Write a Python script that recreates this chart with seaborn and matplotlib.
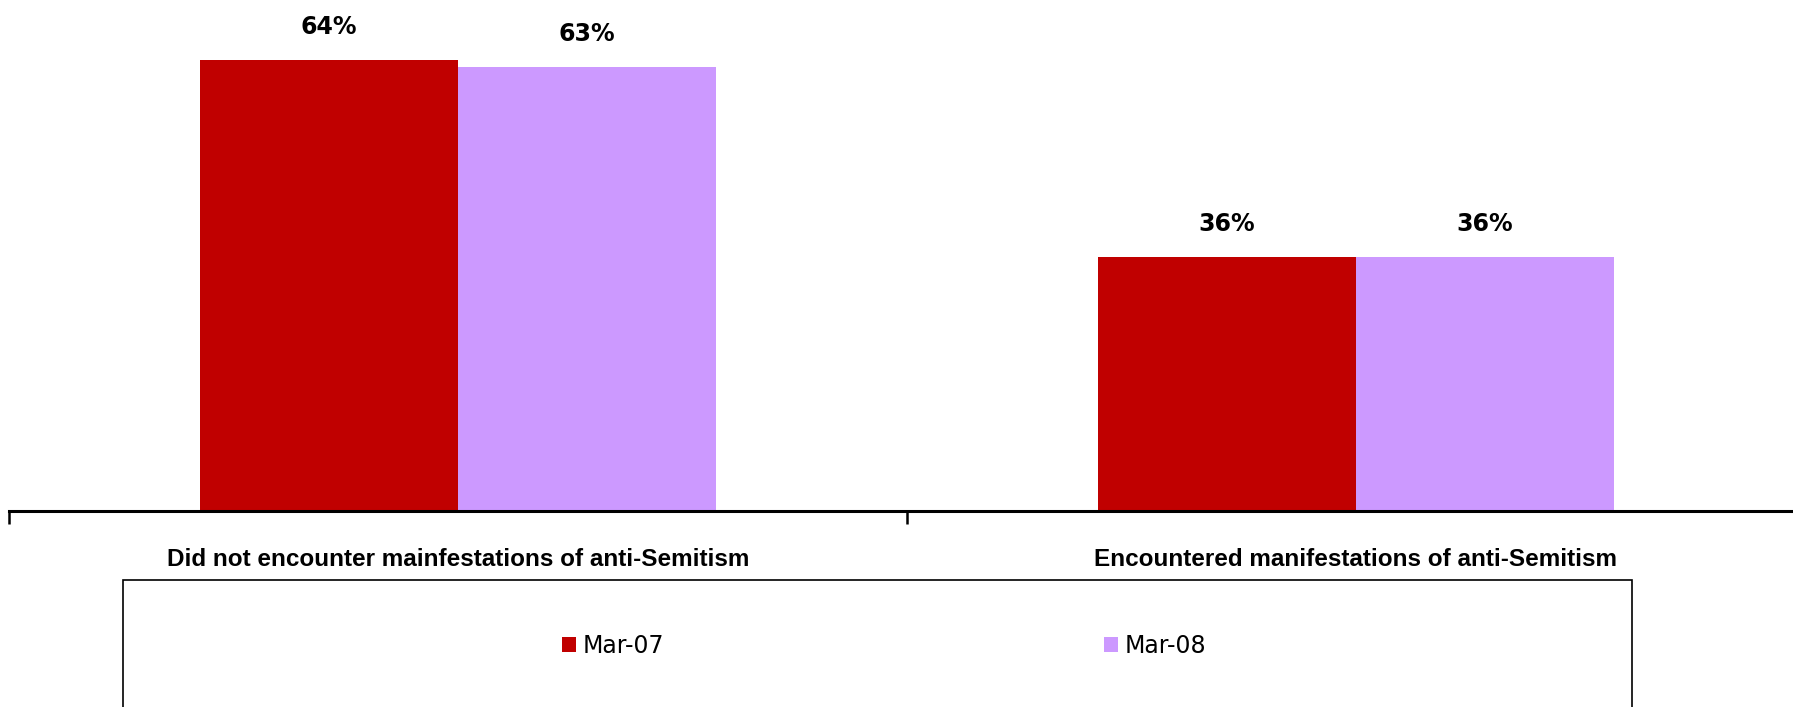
import matplotlib.pyplot as plt
import matplotlib.patches as mpatches
import pandas as pd
import seaborn as sns

# chart data
categories = [
    "Did not encounter mainfestations of anti-Semitism",
    "Encountered manifestations of anti-Semitism",
]
periods = ["Mar-07", "Mar-08"]
mar07 = [64, 36]
mar08 = [63, 36]
colors = ["#C00000", "#CC99FF"]

df = pd.DataFrame(
    {
        "category": categories * 2,
        "period": [periods[0]] * 2 + [periods[1]] * 2,
        "value": mar07 + mar08,
    }
)

sns.set_style("white")
narrow = ["Liberation Sans Narrow", "DejaVu Sans Condensed", "DejaVu Sans"]
plt.rcParams["font.family"] = narrow
plt.rcParams["text.color"] = "black"
plt.rcParams["xtick.color"] = "black"

fig = plt.figure(figsize=(17.93, 7.07), dpi=100)
ax = fig.add_axes([9 / 1793, 196 / 707, 1796 / 1793, 511 / 707])

sns.barplot(
    data=df,
    x="category",
    y="value",
    hue="period",
    hue_order=periods,
    palette=colors,
    saturation=1,
    width=0.575,
    linewidth=0,
    edgecolor="none",
    ax=ax,
)

# value labels above bars
for cont in ax.containers:
    ax.bar_label(
        cont,
        labels=[f"{v:.0f}%" for v in cont.datavalues],
        padding=15,
        fontsize=17,
        fontweight="bold",
        color="black",
        family=narrow,
    )

ax.set_xlim(-0.5, 1.5)
ax.set_ylim(0, 72.5)
ax.set_xlabel("")
ax.set_ylabel("")
ax.set_yticks([])

for side in ["top", "left", "right"]:
    ax.spines[side].set_visible(False)
ax.spines["bottom"].set_linewidth(2.2)
ax.spines["bottom"].set_color("black")

# category labels, separators as minor ticks
ax.tick_params(axis="x", which="major", length=0, pad=27)
ax.set_xticks([-0.5, 0.5, 1.5], minor=True)
ax.tick_params(axis="x", which="minor", bottom=True, length=9, width=1.8,
               direction="out", color="black")
for lbl in ax.get_xticklabels():
    lbl.set_fontsize(17.5)
    lbl.set_fontweight("bold")
    lbl.set_color("black")
    lbl.set_family(["Liberation Sans", "DejaVu Sans"])

# legend box
box = mpatches.Rectangle(
    (123 / 1793, -0.05),
    1509 / 1793,
    (707 - 580) / 707 + 0.05,
    transform=fig.transFigure,
    facecolor="white",
    edgecolor="black",
    linewidth=1.2,
    zorder=-1,
)
fig.patches.append(box)

handles, labels = ax.get_legend_handles_labels()
ax.get_legend().remove()
fig.legend(
    handles,
    labels,
    loc="center",
    bbox_to_anchor=(884 / 1793, 1 - 646 / 707),
    ncol=2,
    frameon=False,
    fontsize=17,
    handlelength=0.6,
    handleheight=0.6,
    handletextpad=0.3,
    columnspacing=18.6,
)

fig.savefig("out.png", dpi=100)
